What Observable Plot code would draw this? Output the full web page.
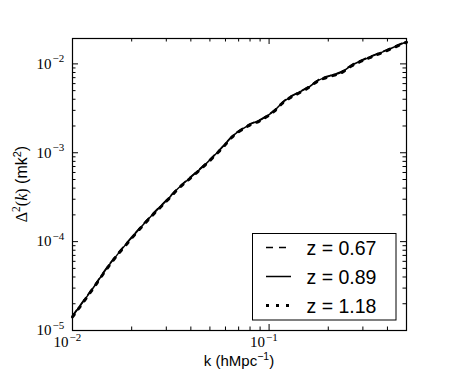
<!DOCTYPE html>
<html>
<head>
<meta charset="utf-8">
<script src="https://cdn.jsdelivr.net/npm/d3@7"></script>
<script src="https://cdn.jsdelivr.net/npm/@observablehq/plot@0.6"></script>
<style>
  html, body { margin: 0; padding: 0; background: white; }
  svg { display: block; }
</style>
</head>
<body>
<div id="chart"></div>
<script>
// ---- data ----
const k = [0.01, 0.0124, 0.0156, 0.0198, 0.025, 0.0316, 0.0336, 0.04, 0.0477, 0.0569, 0.0665, 0.0734, 0.0809, 0.0892, 0.0966, 0.1064, 0.1175, 0.1295, 0.1428, 0.1606, 0.177, 0.207, 0.233, 0.262, 0.319, 0.387, 0.49, 0.5];
const z067 = [1.47e-5, 2.82e-5, 5.8e-5, 1.10e-4, 1.95e-4, 3.30e-4, 3.82e-4, 5.4e-4, 7.6e-4, 1.125e-3, 1.62e-3, 1.89e-3, 2.14e-3, 2.33e-3, 2.59e-3, 3.02e-3, 3.75e-3, 4.35e-3, 4.87e-3, 5.64e-3, 6.58e-3, 7.49e-3, 8.16e-3, 9.70e-3, 1.186e-2, 1.41e-2, 1.76e-2, 1.79e-2];
const z089 = [1.44e-5, 2.77e-5, 5.7e-5, 1.08e-4, 1.92e-4, 3.25e-4, 3.76e-4, 5.3e-4, 7.5e-4, 1.107e-3, 1.60e-3, 1.86e-3, 2.11e-3, 2.30e-3, 2.55e-3, 2.98e-3, 3.70e-3, 4.29e-3, 4.80e-3, 5.56e-3, 6.49e-3, 7.38e-3, 8.05e-3, 9.57e-3, 1.17e-2, 1.39e-2, 1.74e-2, 1.77e-2];
const z118 = [1.42e-5, 2.73e-5, 5.62e-5, 1.065e-4, 1.89e-4, 3.20e-4, 3.71e-4, 5.23e-4, 7.4e-4, 1.09e-3, 1.58e-3, 1.84e-3, 2.08e-3, 2.27e-3, 2.52e-3, 2.94e-3, 3.65e-3, 4.23e-3, 4.74e-3, 5.49e-3, 6.41e-3, 7.29e-3, 7.95e-3, 9.45e-3, 1.155e-2, 1.375e-2, 1.72e-2, 1.75e-2];
const seriesNames = ["z = 0.67", "z = 0.89", "z = 1.18"];

const xMajor = [0.01, 0.1];
const xMajorExp = ["\u22122", "\u22121"];
const xMinor = [0.02, 0.03, 0.04, 0.05, 0.06, 0.07, 0.08, 0.09, 0.2, 0.3, 0.4, 0.5];
const yMajor = [1e-5, 1e-4, 1e-3, 1e-2];
const yMajorExp = ["\u22125", "\u22124", "\u22123", "\u22122"];
const yMinor = [2e-5,3e-5,4e-5,5e-5,6e-5,7e-5,8e-5,9e-5, 2e-4,3e-4,4e-4,5e-4,6e-4,7e-4,8e-4,9e-4, 2e-3,3e-3,4e-3,5e-3,6e-3,7e-3,8e-3,9e-3];

// ---- layout ----
const W = 450, H = 375;
const mL = 72, mR = 44, mT = 38, mB = 45;
const iW = W - mL - mR, iH = H - mT - mB;
const majLen = 6, minLen = 3.5;

const rows = [];
[z067, z089, z118].forEach((vals, si) => {
  vals.forEach((v, i) => rows.push({k: k[i], v, s: seriesNames[si]}));
});

const serif = "'Liberation Serif', 'DejaVu Serif', serif";
const sans = "'Liberation Sans', Arial, sans-serif";

const styles = [
  {dash: "7,6", width: 1.5},
  {dash: null, width: 1.5},
  {dash: "3,7", width: 3}
];

const lineMarks = seriesNames.map((name, i) =>
  Plot.line(rows.filter(r => r.s === name), {
    x: "k", y: "v", stroke: "black", strokeWidth: styles[i].width,
    strokeDasharray: styles[i].dash || undefined, curve: "monotone-x"
  })
);

const chart = Plot.plot({
  width: W, height: H,
  marginLeft: mL, marginRight: mR, marginTop: mT, marginBottom: mB,
  style: {background: "white", overflow: "visible"},
  x: {type: "log", domain: [0.01, 0.5], axis: null},
  y: {type: "log", domain: [1e-5, 0.0193], axis: null},
  marks: [
    ...lineMarks,
    // ticks (inward, all four sides)
    Plot.ruleX(xMajor, {x: d => d, insetTop: iH - majLen, stroke: "black"}),
    Plot.ruleX(xMajor, {x: d => d, insetBottom: iH - majLen, stroke: "black"}),
    Plot.ruleX(xMinor, {x: d => d, insetTop: iH - minLen, stroke: "black"}),
    Plot.ruleX(xMinor, {x: d => d, insetBottom: iH - minLen, stroke: "black"}),
    Plot.ruleY(yMajor, {y: d => d, insetRight: iW - majLen, stroke: "black"}),
    Plot.ruleY(yMajor, {y: d => d, insetLeft: iW - majLen, stroke: "black"}),
    Plot.ruleY(yMinor, {y: d => d, insetRight: iW - minLen, stroke: "black"}),
    Plot.ruleY(yMinor, {y: d => d, insetLeft: iW - minLen, stroke: "black"}),
    Plot.frame({stroke: "black", strokeWidth: 1.2}),
    // x tick labels
    Plot.text(xMajor, {x: d => d, text: () => "10", frameAnchor: "bottom", dy: 16.5, dx: -4,
      textAnchor: "end", fontFamily: serif, fontSize: 15, fill: "black"}),
    Plot.text(xMajor, {x: d => d, text: (d, i) => xMajorExp[i], frameAnchor: "bottom", dy: 10.5, dx: -3,
      textAnchor: "start", fontFamily: serif, fontSize: 11, fill: "black"}),
    // y tick labels
    Plot.text(yMajor, {y: d => d, text: () => "10", frameAnchor: "left", dx: -21, dy: 0,
      textAnchor: "end", fontFamily: serif, fontSize: 15, fill: "black"}),
    Plot.text(yMajor, {y: d => d, text: (d, i) => yMajorExp[i], frameAnchor: "left", dx: -20, dy: -5,
      textAnchor: "start", fontFamily: serif, fontSize: 11, fill: "black"})
  ]
});

document.getElementById("chart").appendChild(chart);

// ---- axis titles and legend ----
const svg = d3.select(chart);

const xt = svg.append("text")
  .attr("x", mL + iW / 2).attr("y", 366)
  .attr("text-anchor", "middle")
  .attr("font-family", sans).attr("font-size", 15).attr("fill", "black");
xt.append("tspan").text("k (hMpc");
xt.append("tspan").attr("font-size", 10.5).attr("dy", -6).text("\u22121");
xt.append("tspan").attr("dy", 6).text(")");

const yt = svg.append("text")
  .attr("transform", `translate(27,${mT + iH / 2}) rotate(-90)`)
  .attr("text-anchor", "middle")
  .attr("font-size", 16).attr("fill", "black");
yt.append("tspan").attr("font-family", serif).text("\u0394");
yt.append("tspan").attr("font-family", serif).attr("font-size", 11.5).attr("dy", -7).text("2");
yt.append("tspan").attr("font-family", serif).attr("dy", 7).text("(");
yt.append("tspan").attr("font-family", serif).attr("font-style", "italic").text("k");
yt.append("tspan").attr("font-family", serif).text(")");
yt.append("tspan").attr("font-family", sans).text(" (mk");
yt.append("tspan").attr("font-family", sans).attr("font-size", 11).attr("dy", -6).text("2");
yt.append("tspan").attr("font-family", sans).attr("dy", 6).text(")");

const lg = svg.append("g");
lg.append("rect")
  .attr("x", 252.5).attr("y", 233.5).attr("width", 143.5).attr("height", 86.5)
  .attr("fill", "white").attr("stroke", "black").attr("stroke-width", 1);
const rowY = [247.5, 276.5, 305.5];
seriesNames.forEach((name, i) => {
  const l = lg.append("line")
    .attr("x1", 266).attr("x2", 291).attr("y1", rowY[i]).attr("y2", rowY[i])
    .attr("stroke", "black").attr("stroke-width", styles[i].width);
  if (styles[i].dash) l.attr("stroke-dasharray", styles[i].dash);
  lg.append("text")
    .attr("x", 306.5).attr("y", rowY[i]).attr("dy", "0.36em")
    .attr("text-anchor", "start")
    .attr("font-family", sans).attr("font-size", 19.5).attr("fill", "black")
    .text(name);
});
</script>
</body>
</html>
